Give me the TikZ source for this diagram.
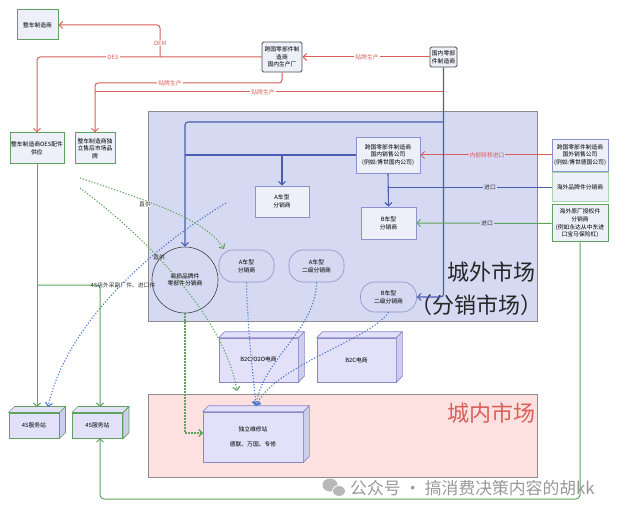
\documentclass[tikz,border=0pt]{standalone}
\usepackage{fontspec}
\setmainfont{Noto Sans CJK SC}
\usetikzlibrary{arrows.meta}
\definecolor{myred}{HTML}{D95F59}
\definecolor{myblue}{HTML}{4A5DB0}
\definecolor{dblue}{HTML}{4A78CC}
\definecolor{mygreen}{HTML}{5DA35D}
\definecolor{lgreen}{HTML}{A9D6A9}
\definecolor{areablue}{HTML}{D5D9F1}
\definecolor{areapink}{HTML}{FDE1E1}
\definecolor{boxfill}{HTML}{EEF0F9}
\definecolor{boxline}{HTML}{8C93CC}
\definecolor{cubefill}{HTML}{E3E1FA}
\definecolor{cubeside}{HTML}{CFCDEC}
\definecolor{cubeline}{HTML}{8A88C8}
\newcommand\cubeit[3]{%
  \draw[#3, line width=0.7pt, fill=cubefill, line join=round] (#1.north west) -- ++(#2,-#2) -- ([shift={(#2,-#2)}]#1.north east) -- (#1.north east) -- cycle;
  \draw[#3, line width=0.7pt, fill=cubeside, line join=round] (#1.north east) -- ++(#2,-#2) -- ([shift={(#2,-#2)}]#1.south east) -- (#1.south east) -- cycle;}
\tikzset{
  gbox/.style={draw=mygreen, line width=1pt, fill=boxfill, align=center, inner sep=1pt},
  lgbox/.style={draw=lgreen, line width=1pt, fill=boxfill, align=center, inner sep=1pt},
  dbox/.style={draw=black!70, line width=0.8pt, fill=boxfill, rounded corners=1.5pt, align=center, inner sep=1pt},
  abox/.style={draw=boxline, line width=0.6pt, fill=boxfill, align=center, inner sep=1pt},
  rbox/.style={draw=boxline, line width=0.6pt, fill=areablue, rounded corners=14pt, align=center, inner sep=1pt},
  cube/.style={draw=cubeline, line width=0.7pt, fill=cubefill, align=center, inner sep=1pt},
  gcube/.style={draw=mygreen, line width=1pt, fill=cubefill, align=center, inner sep=1pt},
  arr/.style={-{Straight Barb[length=3.5pt,width=7pt]}},
  rl/.style={myred, line width=1pt, rounded corners=3pt},
  bl/.style={myblue, line width=1.1pt, rounded corners=3pt},
  gl/.style={mygreen, line width=1pt, rounded corners=3pt},
  bd/.style={dblue, line width=1.1pt, dash pattern=on 1.2pt off 1.8pt},
  gd/.style={mygreen, line width=1.1pt, dash pattern=on 1.2pt off 1.8pt},
  rlbl/.style={fill=white, inner sep=1pt, text=myred},
  klbl/.style={fill=white, inner sep=1pt, text=black!80},
  big/.style={font=\fontsize{22}{22}\selectfont},
}
\begin{document}
\begin{tikzpicture}[x=1pt,y=-1pt,font=\fontsize{5.8}{7.6}\selectfont]
\useasboundingbox[fill=white] (0,0) rectangle (628,518);
% areas
\node[draw=black!45, line width=0.8pt, fill=areablue, minimum width=389, minimum height=210, anchor=north west, inner sep=0] (outarea) at (148,111) {};
\node[draw=black!45, line width=0.8pt, fill=areapink, minimum width=389, minimum height=83, anchor=north west, inner sep=0] (inarea) at (148,394) {};
\node[big, text=black!85] (t1) at (491,272) {城外市场};
\node[big, text=black!85] (t2) at (476,305) {（分销市场）};
\node[big, text=myred] (t3) at (491,413) {城内市场};
% nodes
\node[gbox, minimum width=41, minimum height=30] (oem) at (37.5,25) {整车制造商};
\node[dbox, minimum width=40, minimum height=30] (kg) at (282,57) {跨国零部件制\\造商\\国内生产厂};
\node[dbox, minimum width=27, minimum height=20] (gn) at (443.5,57) {国内零部\\件制造商};
\node[gbox, minimum width=54, minimum height=31] (oes) at (37,148.5) {整车制造商OES配件\\供应};
\node[gbox, minimum width=40, minimum height=31] (ind) at (95,148.5) {整车制造商独\\立售后市场品\\牌};
\node[abox, minimum width=64, minimum height=36] (gnxs) at (388,155) {跨国零部件制造商\\国内销售公司\\(例如:博世国内公司)};
\node[abox, minimum width=56, minimum height=32] (gwxs) at (580,155) {跨国零部件制造商\\国外销售公司\\(例如:博世德国公司)};
\node[lgbox, minimum width=56, minimum height=29] (hwpp) at (580,187.5) {海外品牌件分销商};
\node[gbox, minimum width=56, minimum height=37] (hwyc) at (580,223.5) {海外原厂授权件\\分销商\\(例如永达从中东进\\口宝马保险杠)};
\node[abox, minimum width=54, minimum height=31] (acx) at (282,201.5) {A车型\\分销商};
\node[rbox, minimum width=55, minimum height=32] (a1) at (246.5,266) {A车型\\分销商};
\node[rbox, minimum width=55, minimum height=32] (a2) at (316.5,266) {A车型\\二级分销商};
\node[abox, minimum width=55, minimum height=32] (bcx) at (388.5,223) {B车型\\分销商};
\node[rbox, minimum width=56, minimum height=30] (b2) at (388.5,297) {B车型\\二级分销商};
\node[circle, draw=black!75, line width=0.6pt, minimum size=66, align=center, inner sep=0] (cir) at (185,280) {易损品牌件\\零部件分销商};
\node[cube, minimum width=79, minimum height=44] (e1) at (258.5,360) {B2C/O2O电商};
\cubeit{e1}{6}{cubeline}
\node[cube, minimum width=79, minimum height=44] (e2) at (356.5,360) {B2C电商};
\cubeit{e2}{6}{cubeline}
\node[cube, minimum width=100, minimum height=50] (wx) at (253,437) {独立维修站\\[7pt]德联、万国、专修};
\cubeit{wx}{6}{cubeline}
\node[gcube, minimum width=50, minimum height=25] (s1) at (34,425.5) {4S服务站};
\cubeit{s1}{6}{mygreen}
\node[gcube, minimum width=50, minimum height=25] (s2) at (97.5,425.5) {4S服务站};
\cubeit{s2}{6}{mygreen}
% coordinates
\coordinate (j1) at (160,57);
\coordinate (j2) at (443.5,92);
\coordinate (j3) at (443.5,122);
\coordinate (j4) at (282,155);
\coordinate (j5) at (37,285);
\coordinate (s1top) at (37,407);
\coordinate (s2top) at (100,407);
\coordinate (s1dot) at (48,407);
\coordinate (s2bot) at (100,438);
\coordinate (wxtop) at (256,406);
\coordinate (wxl) at (203,433);
\coordinate (bdstart) at (226,203);
\coordinate (g1) at (80,178);
\coordinate (g2) at (80,188);
\coordinate (a1in) at (224,249);
\coordinate (wxg) at (237,391);
% red connectors
\draw[rl, arr] (kg.west) -| (oes.north);
\draw[rl, arr] (j1) |- (oem.east);
\draw[rl, arr] (kg.south) -- (282,83) -| (ind.north);
\draw[rl] (j2) -- (95,92);
\draw[rl, arr] (gn.west) -- (kg.east);
\draw[rl, arr] (gwxs.west) -- (gnxs.east);
\node[rlbl] (l1) at (113,57) {OES};
\node[rlbl] (l2) at (160,43) {OEM};
\node[rlbl] (l3) at (170,83) {贴牌生产};
\node[rlbl] (l4) at (263,92) {贴牌生产};
\node[rlbl] (l5) at (367,57) {贴牌生产};
\node[rlbl, fill=areablue] (l6) at (487,155) {内部转移进口};
% blue connectors
\draw[bl, arr] (gn.south) |- (b2.east);
\draw[bl, arr] (j3) -| (cir.north);
\draw[bl] (gnxs.west) -- (185,155);
\draw[bl, arr] (j4) -- (acx.north);
\draw[bl, arr] (gnxs.south) -- (bcx.north);
\draw[bl] (hwpp.west) -- (388,187.5);
\node[klbl, fill=areablue] (l7) at (490,187.5) {进口};
% green connectors
\draw[gl, arr] (hwyc.west) -- (bcx.east);
\node[klbl, fill=areablue] (l8) at (487,223) {进口};
\draw[gl, arr] (oes.south) -- (s1top);
\draw[gl, arr] (j5) -| (s2top);
\draw[gl, arr, rounded corners=4pt] (hwyc.south) -- (580,499) -| (s2bot);
\node[text=black!80, inner sep=0] (l9) at (123,285) {4S店外采副厂件、进口件};
% dotted blue
\draw[bd, arr] (a1.south) .. controls (248,340) and (254,380) .. (wxtop);
\draw[bd, arr] (a2.south) .. controls (316,330) and (262,360) .. (wxtop);
\draw[bd, arr] (b2.south) .. controls (370,340) and (275,365) .. (wxtop);
\draw[bd, arr] (bdstart) .. controls (140,255) and (65,330) .. (s1dot);
% dotted green
\draw[gd, arr] (g1) .. controls (160,205) and (205,220) .. (a1in);
\draw[gd, arr] (g2) .. controls (150,240) and (225,320) .. (wxg);
\draw[gd, arr] (cir.south) |- (wxl);
\node[text=black!80, inner sep=0.5pt, fill=white] (l10) at (145,204) {直供};
\node[text=black!80, inner sep=0.5pt] (l11) at (159,257) {直供};
% watermark
\fill[black!28] (330,485) ellipse (7.5 and 6.5);
\fill[black!28, draw=white, line width=0.8pt] (339,491) ellipse (6.5 and 5.5);
\node[text=black!40, font=\fontsize{16.8}{16.8}\selectfont, anchor=west, inner sep=0] (wm) at (350,488) {公众号 · 搞消费决策内容的胡kk};
\end{tikzpicture}
\end{document}
